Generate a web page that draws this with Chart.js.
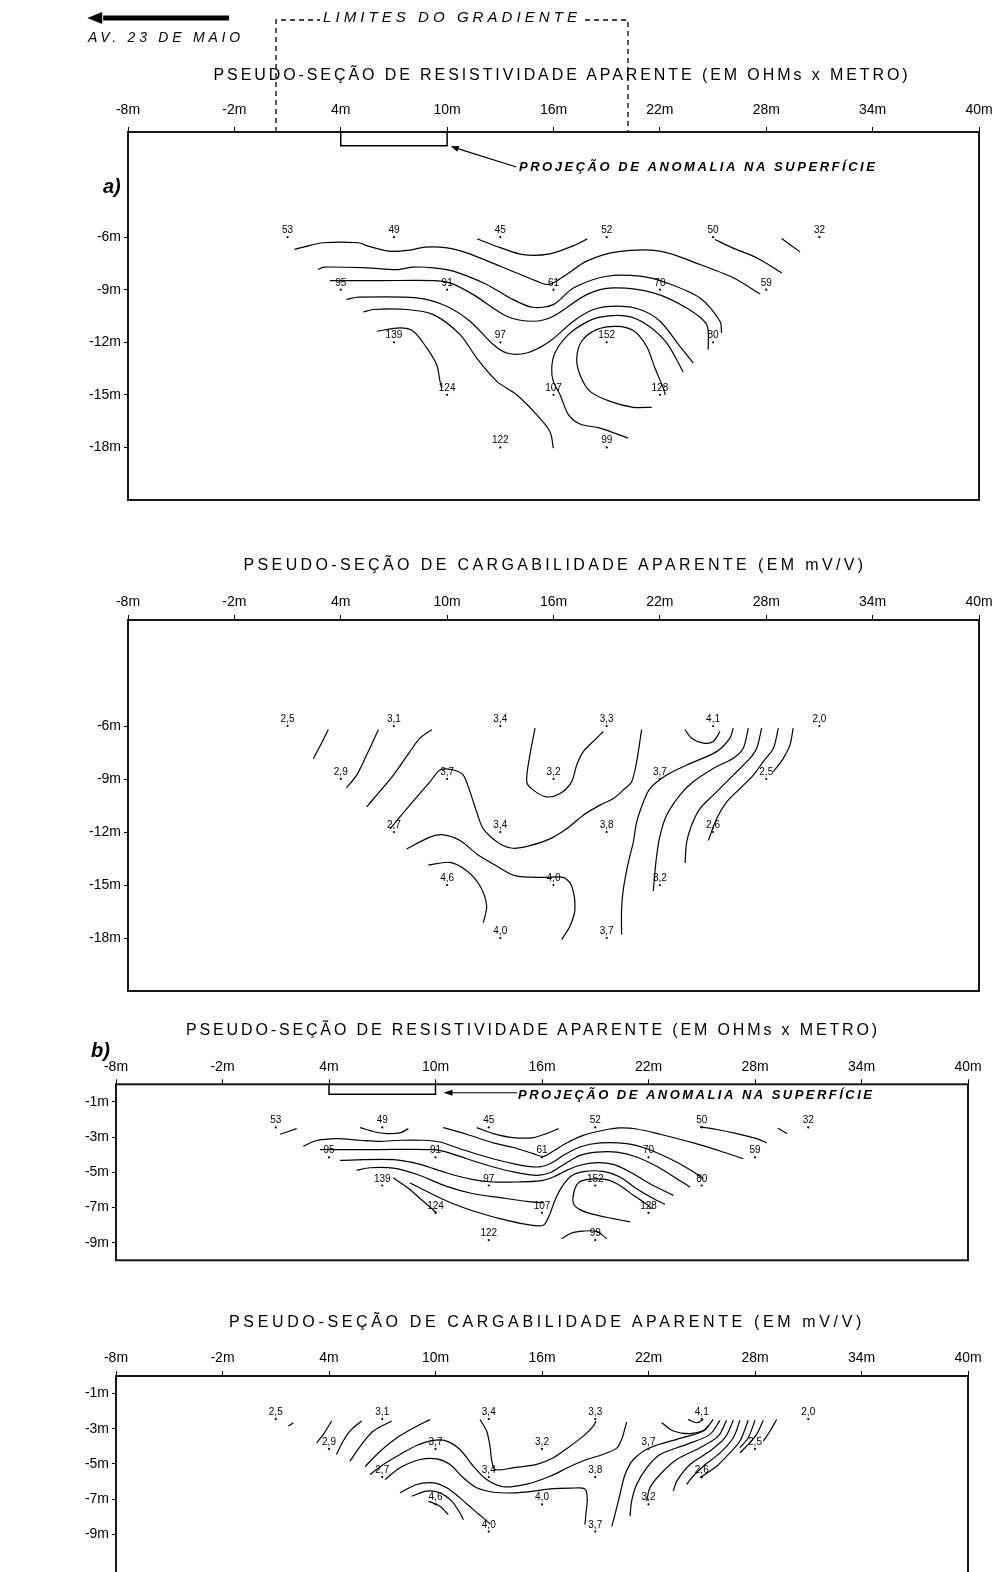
<!DOCTYPE html>
<html>
<head>
<meta charset="utf-8">
<script src="https://cdn.jsdelivr.net/npm/chart.js@4"></script>
<style>
  html, body { margin: 0; padding: 0; background: #fff; width: 996px; height: 1572px; overflow: hidden; }
  canvas { position: absolute; left: 0; }
  .title { position: absolute; font: 16px "Liberation Sans", Arial, sans-serif; white-space: nowrap; transform: translateX(-50%); color: #000; }
  .tag { position: absolute; font: italic bold 20px "Liberation Sans", Arial, sans-serif; color: #000; }
</style>
</head>
<body>
<canvas id="resA" width="996" height="520" style="top:0px"></canvas>
<canvas id="chgA" width="996" height="470" style="top:525px"></canvas>
<canvas id="resB" width="996" height="290" style="top:995px"></canvas>
<canvas id="chgB" width="996" height="310" style="top:1290px"></canvas>

<div class="title" data-w="697" style="left:562px;top:66px">PSEUDO-SEÇÃO DE RESISTIVIDADE APARENTE (EM OHMs x METRO)</div>
<div class="title" data-w="623" style="left:555px;top:556px">PSEUDO-SEÇÃO DE CARGABILIDADE APARENTE (EM mV/V)</div>
<div class="title" data-w="694" style="left:533px;top:1021px">PSEUDO-SEÇÃO DE RESISTIVIDADE APARENTE (EM OHMs x METRO)</div>
<div class="title" data-w="636" style="left:547px;top:1313px">PSEUDO-SEÇÃO DE CARGABILIDADE APARENTE (EM mV/V)</div>
<div class="tag" style="left:103px;top:175px">a)</div>
<div class="tag" style="left:91px;top:1039px">b)</div>

<script>
// station positions of the pseudo-section (metres along the line)
const stationX = [
  [1, 7, 13, 19, 25, 31],
  [4, 10, 16, 22, 28],
  [7, 13, 19, 25],
  [10, 16, 22],
  [13, 19]
];
const depthA = [-6, -9, -12, -15, -18];
const depthB = [-2.45, -4.15, -5.75, -7.3, -8.85];

const resistivity = [
  [53, 49, 45, 52, 50, 32],
  [95, 91, 61, 70, 59],
  [139, 97, 152, 80],
  [124, 107, 128],
  [122, 99]
];
const chargeability = [
  [2.5, 3.1, 3.4, 3.3, 4.1, 2.0],
  [2.9, 3.7, 3.2, 3.7, 2.5],
  [2.7, 3.4, 3.8, 2.6],
  [4.6, 4.0, 3.2],
  [4.0, 3.7]
];

const xTicks = [-8, -2, 4, 10, 16, 22, 28, 34, 40];
const yTicksA = [-6, -9, -12, -15, -18];
const yTicksB = [-1, -3, -5, -7, -9];

// contour traces, [x m, depth m]
const resLinesA = [
  [[11.7,-6.1],[13.0,-6.6],[14.3,-7.0],[15.8,-6.95],[17.1,-6.5],[17.9,-6.1]],
  [[1.4,-6.7],[1.9,-6.57],[3.0,-6.32],[5.0,-6.32],[5.5,-6.5],[6.7,-6.8],[7.9,-6.74],[8.75,-6.57],[10.0,-6.61],[11.1,-6.9],[13.0,-7.66],[15.05,-8.51],[15.6,-8.7],[16.0,-8.6],[16.74,-8.13],[17.87,-7.37],[19.56,-6.84],[22.0,-6.8],[24.26,-7.56],[26.14,-8.32],[27.65,-9.24]],
  [[25.1,-6.13],[26.1,-6.61],[27.46,-7.18],[28.87,-8.04]],
  [[28.87,-6.08],[29.9,-6.84]],
  [[2.73,-7.85],[3.02,-7.71],[5.46,-7.75],[7.15,-7.85],[8.09,-7.71],[9.22,-7.75],[10.35,-7.94],[12.23,-8.7],[13.55,-9.47],[14.8,-10.0],[15.99,-9.85],[17.12,-8.9],[19.0,-8.23],[20.88,-8.23],[22.38,-8.61],[24.26,-9.47],[25.39,-10.8],[25.48,-11.47]],
  [[3.39,-8.48],[6.3,-8.48],[9.22,-8.48],[10.16,-8.61],[11.48,-9.28],[13.36,-10.51],[14.86,-10.8],[15.99,-10.51],[17.87,-9.28],[19.37,-8.9],[21.63,-9.18],[23.51,-10.04],[24.64,-10.99],[24.73,-12.42]],
  [[4.33,-9.56],[4.9,-9.43],[8.28,-9.47],[9.97,-9.94],[11.29,-10.8],[12.6,-12.13],[13.36,-12.61],[14.49,-12.61],[15.8,-11.94],[17.12,-10.8],[18.25,-10.13],[19.56,-9.94],[20.88,-10.13],[22.01,-10.8],[23.13,-12.23],[23.88,-13.18]],
  [[5.27,-10.27],[5.84,-10.13],[7.72,-10.13],[9.22,-10.42],[10.73,-11.56],[11.67,-12.9],[12.8,-14.23],[13.92,-14.99],[15.05,-16.13],[15.8,-17.09],[15.99,-18.04]],
  [[6.03,-11.37],[7.34,-11.18],[8.09,-11.37],[8.85,-12.32],[9.41,-13.28],[9.6,-14.23],[9.69,-14.61]],
  [[21.54,-15.71],[20.5,-15.71],[19.19,-15.37],[18.06,-14.8],[17.49,-13.85],[17.31,-12.9],[17.59,-11.94],[18.43,-11.28],[19.56,-11.09],[20.5,-11.33],[21.25,-12.23],[21.72,-13.47],[22.19,-14.61],[22.3,-15.0]],
  [[23.32,-13.7],[22.38,-12.04],[21.25,-10.99],[20.13,-10.51],[18.62,-10.56],[17.68,-10.95],[16.74,-11.66],[16.08,-12.61],[15.9,-13.47],[15.99,-14.23],[16.37,-14.99],[16.84,-16.13],[17.49,-16.66],[18.62,-16.9],[20.22,-17.47]]
];

const chgLinesA = [
  [[3.3,-6.2],[2.9,-7.0],[2.45,-7.85]],
  [[6.12,-6.21],[5.46,-7.64],[4.9,-8.78],[4.33,-9.5]],
  [[9.13,-6.21],[8.47,-6.69],[7.9,-7.45],[6.97,-8.78],[6.03,-9.91],[5.46,-10.58]],
  [[6.78,-11.82],[7.9,-10.48],[9.03,-9.16],[9.6,-8.49],[10.35,-8.49],[10.91,-8.78],[11.29,-9.73],[11.67,-10.87],[12.04,-11.82],[12.98,-12.67],[13.73,-12.92],[14.67,-12.77],[15.8,-12.39],[16.74,-11.82],[17.68,-11.05],[18.62,-10.48],[19.37,-10.11],[20.03,-9.54],[20.41,-9.16],[20.69,-8.02],[20.97,-6.21]],
  [[7.72,-12.96],[9.03,-12.29],[9.79,-12.16],[10.73,-12.48],[11.67,-13.24],[12.6,-13.81],[13.83,-14.47],[15.43,-14.57],[16.55,-14.57],[17.02,-15.04],[17.21,-16.38],[16.93,-17.32],[16.46,-18.09]],
  [[8.94,-13.87],[10.16,-13.72],[11.1,-14.19],[11.85,-15.04],[12.23,-16.18],[12.04,-17.13]],
  [[14.96,-6.12],[14.67,-7.64],[14.49,-9.16],[14.86,-9.63],[15.61,-10.01],[16.37,-9.82],[17.02,-9.16],[17.31,-8.21],[17.68,-7.45],[18.43,-6.69],[18.81,-6.31]],
  [[23.42,-6.21],[23.79,-6.69],[24.45,-6.97],[25.01,-6.88],[25.39,-6.31]],
  [[26.14,-6.12],[25.95,-6.69],[25.2,-7.45],[23.51,-8.21],[22.38,-8.78],[21.44,-9.54],[21.07,-10.3],[20.69,-11.44],[20.5,-12.58],[20.22,-13.72],[19.94,-15.24],[19.84,-16.38],[19.84,-17.8]],
  [[26.99,-6.12],[26.7,-7.26],[26.14,-7.83],[25.01,-8.4],[23.88,-9.16],[23.13,-9.91],[22.38,-11.05],[22.01,-12.19],[21.82,-13.33],[21.72,-14.28],[21.63,-15.33]],
  [[27.74,-6.12],[27.46,-7.26],[27.08,-7.83],[26.14,-8.78],[25.01,-9.91],[24.26,-10.68],[23.79,-11.62],[23.51,-12.58],[23.42,-13.75]],
  [[28.68,-6.12],[28.4,-7.26],[27.83,-8.02],[27.27,-8.78],[26.52,-9.54],[25.77,-10.3],[25.2,-11.25],[24.73,-12.48]],
  [[29.52,-6.12],[29.34,-7.07],[28.96,-7.83],[28.4,-8.59]]
];

const resLinesB = [
  [[1.24,-2.84],[2.18,-2.52]],
  [[5.75,-2.46],[6.6,-2.71],[7.25,-2.8],[8.0,-2.76],[8.47,-2.52]],
  [[12.32,-2.46],[13.26,-2.8],[14.38,-3.03],[15.51,-3.03],[16.26,-2.8],[16.92,-2.52]],
  [[10.44,-2.46],[11.76,-2.84],[13.26,-3.33],[14.38,-3.59],[15.51,-3.94],[16.07,-4.1],[16.64,-3.79],[17.39,-3.33],[18.33,-2.9],[19.46,-2.61],[20.39,-2.48],[21.33,-2.54],[22.65,-2.84],[24.53,-3.33],[26.03,-3.79],[27.34,-4.23]],
  [[24.9,-2.42],[25.84,-2.57],[26.97,-2.8],[28.09,-3.09],[28.66,-3.33]],
  [[29.3,-2.5],[29.8,-2.8]],
  [[2.55,-3.52],[3.21,-3.22],[4.43,-3.09],[5.75,-3.18],[6.87,-3.24],[8.0,-3.18],[9.31,-3.18],[10.25,-3.28],[11.38,-3.66],[12.88,-4.13],[14.38,-4.51],[15.7,-4.7],[16.45,-4.51],[17.2,-4.04],[18.14,-3.56],[19.27,-3.33],[20.77,-3.37],[21.9,-3.66],[23.21,-4.23],[24.34,-4.85],[25.09,-5.36]],
  [[3.49,-3.71],[6.7,-3.71],[9.88,-3.71],[10.63,-3.85],[11.76,-4.23],[13.26,-4.7],[14.38,-4.98],[15.7,-5.17],[16.54,-4.98],[17.3,-4.51],[18.14,-4.04],[19.08,-3.85],[20.21,-3.85],[21.33,-4.13],[22.46,-4.66],[23.59,-5.36],[24.34,-5.84]],
  [[4.62,-4.32],[7.62,-4.28],[9.13,-4.55],[10.63,-5.04],[12.13,-5.42],[13.26,-5.55],[14.57,-5.55],[15.89,-5.49],[16.64,-5.27],[17.39,-4.89],[18.14,-4.6],[19.08,-4.45],[20.02,-4.55],[20.96,-4.98],[22.08,-5.65],[23.4,-6.31]],
  [[5.56,-4.89],[6.31,-4.74],[7.62,-4.76],[8.94,-5.11],[10.63,-5.8],[12.13,-6.22],[13.63,-6.44],[15.14,-6.65],[16.07,-6.73]],
  [[8.56,-5.61],[10.63,-6.63],[12.13,-7.2],[13.63,-7.63],[15.14,-7.96],[16.07,-8.01],[16.41,-7.45],[16.73,-6.59],[17.11,-5.84],[17.67,-5.2],[18.42,-4.95],[19.46,-4.95],[20.39,-5.27],[21.33,-5.93],[22.27,-6.49],[22.93,-6.82]],
  [[7.62,-5.31],[8.38,-5.84],[9.13,-6.49],[10.07,-7.31]],
  [[20.96,-7.82],[20.02,-7.63],[18.89,-7.39],[18.14,-7.12],[17.77,-6.78],[17.8,-6.12],[18.05,-5.6],[18.61,-5.4],[19.64,-5.42],[20.39,-5.75],[21.15,-6.31],[21.9,-6.82],[22.18,-7.07]],
  [[17.11,-8.77],[17.67,-8.45],[18.33,-8.34],[19.08,-8.36],[19.64,-8.77]]
];

const chgLinesB = [
  [[1.71,-2.85],[1.99,-2.66]],
  [[4.15,-2.56],[3.68,-3.32],[3.31,-3.8]],
  [[5.84,-2.56],[5.18,-3.13],[4.8,-3.7],[4.42,-4.46]],
  [[7.53,-2.56],[6.5,-3.13],[5.84,-3.89],[5.18,-4.84]],
  [[9.69,-2.48],[8.75,-2.96],[7.81,-3.53],[6.87,-4.29],[6.03,-5.15]],
  [[6.31,-5.6],[7.06,-5.03],[8.0,-4.46],[8.94,-3.95],[9.88,-3.66],[10.63,-3.7],[11.38,-4.18],[12.13,-5.13],[12.88,-5.89],[13.82,-6.3],[15.14,-6.15],[16.45,-5.7],[17.58,-5.15],[18.52,-4.75],[19.46,-4.45],[20.21,-4.1],[20.49,-3.6],[20.64,-3.1],[20.77,-2.62]],
  [[12.51,-2.47],[12.88,-3.13],[13.07,-3.99],[13.16,-4.75],[13.35,-5.32],[14.38,-5.22],[15.7,-5.03],[16.64,-4.65],[17.58,-3.99],[18.33,-3.42],[18.89,-2.85],[19.04,-2.56]],
  [[7.15,-5.89],[8.0,-5.22],[9.13,-4.75],[10.07,-4.71],[10.82,-5.03],[11.57,-5.79],[12.32,-6.36],[13.26,-6.61],[14.38,-6.65],[15.51,-6.55],[16.45,-6.42],[17.58,-6.38],[18.42,-6.42],[18.55,-7.03],[18.48,-7.79],[18.42,-8.45]],
  [[8.0,-6.65],[8.94,-6.17],[9.88,-6.08],[10.63,-6.36],[11.38,-6.93],[12.13,-7.6],[12.69,-8.07],[13.07,-8.4]],
  [[8.66,-6.84],[9.5,-6.55],[10.25,-6.65],[10.91,-7.12],[11.38,-7.79],[11.57,-8.17]],
  [[9.6,-7.12],[10.25,-7.41],[10.72,-7.88]],
  [[22.74,-2.66],[23.4,-3.13],[24.34,-3.28],[25.1,-3.1],[25.4,-2.8]],
  [[24.24,-2.47],[24.71,-2.66],[25.09,-2.47]],
  [[25.65,-2.47],[25.09,-3.13],[23.77,-3.55],[22.08,-4.08],[21.15,-4.75],[20.68,-5.6],[20.39,-6.74],[20.11,-7.88],[19.93,-8.55]],
  [[26.03,-2.52],[25.46,-3.32],[24.15,-3.89],[22.65,-4.46],[21.9,-5.22],[21.33,-6.17],[21.05,-7.12],[20.96,-7.98]],
  [[26.4,-2.52],[25.93,-3.42],[24.9,-4.08],[23.59,-4.75],[22.65,-5.6],[22.08,-6.36],[21.9,-7.12]],
  [[26.78,-2.52],[26.31,-3.51],[25.46,-4.27],[24.34,-5.03],[23.59,-5.98],[23.4,-6.55]],
  [[27.15,-2.52],[26.78,-3.51],[26.03,-4.37],[25.09,-5.13],[24.43,-5.79],[24.15,-6.17]],
  [[27.62,-2.52],[27.15,-3.7],[26.5,-4.46],[25.84,-5.13],[24.9,-5.79]],
  [[28.0,-2.52],[27.62,-3.51],[27.15,-4.08]],
  [[28.47,-2.52],[28.09,-3.32],[27.62,-3.89],[27.15,-4.37]],
  [[29.22,-2.47],[28.85,-3.13],[28.47,-3.7]]
];

const FONT = '"Liberation Sans", Arial, sans-serif';
const fmtRes = v => String(v);
const fmtChg = v => v.toFixed(1).replace('.', ',');

// annotations drawn through the scales
const notesResA = [
  { kind: 'poly', pts: [[-9.4, 6.5], [-2.3, 6.5]], width: 5 },
  { kind: 'head', tip: [-10.3, 6.5], from: [-2.3, 6.5], len: 15, half: 6 },
  { kind: 'text', x0: -10.26, x1: -1.68, y: 5.37, text: 'AV. 23 DE MAIO', font: 'italic 14px ' + FONT },
  { kind: 'poly', pts: [[0.35, 0], [0.35, 6.39], [2.83, 6.39]], width: 1.3, dash: [5, 4] },
  { kind: 'poly', pts: [[17.78, 6.39], [20.2, 6.39], [20.2, 0]], width: 1.3, dash: [5, 4] },
  { kind: 'text', x0: 3.0, x1: 17.32, y: 6.5, text: 'LIMITES DO GRADIENTE', font: 'italic 15px ' + FONT },
  { kind: 'poly', pts: [[4, 0], [4, -0.78], [10, -0.78], [10, 0]], width: 1.5 },
  { kind: 'poly', pts: [[10.6, -0.95], [13.9, -2.0]], width: 1.2 },
  { kind: 'head', tip: [10.2, -0.82], from: [13.9, -2.0], len: 8, half: 3 },
  { kind: 'text', x0: 14.05, x1: 34.13, y: -2.0, text: 'PROJEÇÃO DE ANOMALIA NA SUPERFÍCIE', font: 'italic bold 13px ' + FONT }
];
const notesResB = [
  { kind: 'poly', pts: [[4, 0], [4, -0.57], [10, -0.57], [10, 0]], width: 1.5 },
  { kind: 'poly', pts: [[10.9, -0.48], [14.6, -0.48]], width: 1.2 },
  { kind: 'head', tip: [10.45, -0.48], from: [14.6, -0.48], len: 9, half: 3 },
  { kind: 'text', x0: 14.65, x1: 34.59, y: -0.63, text: 'PROJEÇÃO DE ANOMALIA NA SUPERFÍCIE', font: 'italic bold 13px ' + FONT }
];

function fitText(ctx, text, width) {
  ctx.letterSpacing = '0px';
  const nat = ctx.measureText(text).width;
  ctx.letterSpacing = ((width - nat) / (text.length - 1)) + 'px';
}

function decor(labels, notes) {
  return {
    id: 'decor',
    afterDatasetsDraw(chart) {
      const ctx = chart.ctx, a = chart.chartArea;
      const sx = chart.scales.x, sy = chart.scales.y;
      const P = ([x, y]) => [sx.getPixelForValue(x), sy.getPixelForValue(y)];
      ctx.save();
      ctx.fillStyle = '#000';
      ctx.font = '10px ' + FONT;
      ctx.textAlign = 'center';
      ctx.textBaseline = 'alphabetic';
      chart.getDatasetMeta(0).data.forEach((p, i) => ctx.fillText(labels[i], p.x, p.y - 4));

      ctx.lineWidth = 2;
      ctx.strokeStyle = '#161616';
      ctx.strokeRect(a.left, a.top, a.right - a.left, a.bottom - a.top);

      notes.forEach(n => {
        ctx.save();
        ctx.strokeStyle = '#000';
        ctx.fillStyle = '#000';
        if (n.kind === 'poly') {
          ctx.lineWidth = n.width;
          ctx.setLineDash(n.dash || []);
          ctx.beginPath();
          n.pts.forEach((pt, i) => { const [x, y] = P(pt); i ? ctx.lineTo(x, y) : ctx.moveTo(x, y); });
          ctx.stroke();
        } else if (n.kind === 'head') {
          const [tx, ty] = P(n.tip), [fx, fy] = P(n.from);
          const d = Math.hypot(fx - tx, fy - ty), ux = (fx - tx) / d, uy = (fy - ty) / d;
          const bx = tx + ux * n.len, by = ty + uy * n.len;
          ctx.beginPath();
          ctx.moveTo(tx, ty);
          ctx.lineTo(bx - uy * n.half, by + ux * n.half);
          ctx.lineTo(bx + uy * n.half, by - ux * n.half);
          ctx.closePath();
          ctx.fill();
        } else if (n.kind === 'text') {
          ctx.font = n.font;
          ctx.textAlign = 'left';
          ctx.textBaseline = 'middle';
          const [x0, y] = P([n.x0, n.y]);
          fitText(ctx, n.text, sx.getPixelForValue(n.x1) - x0);
          ctx.fillText(n.text, x0, y);
        }
        ctx.restore();
      });
      ctx.restore();
    }
  };
}

function drawSection(id, cfg) {
  const points = [], labels = [];
  stationX.forEach((row, r) => row.forEach((x, i) => {
    points.push({ x, y: cfg.depths[r] });
    labels.push(cfg.fmt(cfg.values[r][i]));
  }));
  const datasets = [{ data: points, pointRadius: 1.1, pointBackgroundColor: '#000', pointBorderWidth: 0, showLine: false }];
  cfg.lines.forEach(line => datasets.push({
    data: line.map(([x, y]) => ({ x, y })),
    showLine: true, borderColor: '#000', borderWidth: 1.2, pointRadius: 0, tension: 0.3
  }));

  new Chart(document.getElementById(id), {
    type: 'scatter',
    data: { datasets },
    options: {
      responsive: false,
      animation: false,
      events: [],
      layout: { padding: cfg.pad },
      plugins: { legend: { display: false }, tooltip: { enabled: false } },
      scales: {
        x: {
          type: 'linear', position: 'top', min: -8, max: 40,
          afterBuildTicks: s => { s.ticks = xTicks.map(v => ({ value: v })); },
          afterFit: s => { s.height = 41; s.paddingLeft = 0; s.paddingRight = 0; },
          ticks: { color: '#000', font: { family: FONT, size: 14 }, padding: cfg.tickPad, maxRotation: 0, autoSkip: false, callback: v => v + 'm' },
          grid: { drawOnChartArea: false, drawTicks: true, tickLength: 5, color: '#000', lineWidth: 1 },
          border: { display: false }
        },
        y: {
          type: 'linear', min: cfg.ymin, max: 0,
          afterBuildTicks: s => { s.ticks = cfg.yTicks.map(v => ({ value: v })); },
          afterFit: s => { s.width = cfg.left; s.paddingTop = 0; s.paddingBottom = 0; },
          ticks: { color: '#000', font: { family: FONT, size: 14 }, padding: 3, autoSkip: false, callback: v => v + 'm' },
          grid: { drawOnChartArea: false, drawTicks: true, tickLength: 4, color: '#000', lineWidth: 1 },
          border: { display: false }
        }
      }
    },
    plugins: [decor(labels, cfg.notes)]
  });
}

drawSection('resA', { depths: depthA, values: resistivity, fmt: fmtRes, lines: resLinesA, yTicks: yTicksA, ymin: -21, left: 128, tickPad: 8,
  pad: { top: 91, right: 17, bottom: 20, left: 0 }, notes: notesResA });
drawSection('chgA', { depths: depthA, values: chargeability, fmt: fmtChg, lines: chgLinesA, yTicks: yTicksA, ymin: -21, left: 128, tickPad: 4,
  pad: { top: 54, right: 17, bottom: 2, left: 0 }, notes: [] });
drawSection('resB', { depths: depthB, values: resistivity, fmt: fmtRes, lines: resLinesB, yTicks: yTicksB, ymin: -10, left: 116, tickPad: 4,
  pad: { top: 48.3, right: 28, bottom: 24.7, left: 0 }, notes: notesResB });
drawSection('chgB', { depths: depthB, values: chargeability, fmt: fmtChg, lines: chgLinesB, yTicks: yTicksB, ymin: -12, left: 116, tickPad: 4,
  pad: { top: 45, right: 28, bottom: 13, left: 0 }, notes: [] });

document.querySelectorAll('.title').forEach(el => {
  el.style.letterSpacing = '0px';
  const nat = el.getBoundingClientRect().width;
  el.style.letterSpacing = ((+el.dataset.w - nat) / el.textContent.length) + 'px';
});
</script>
</body>
</html>
